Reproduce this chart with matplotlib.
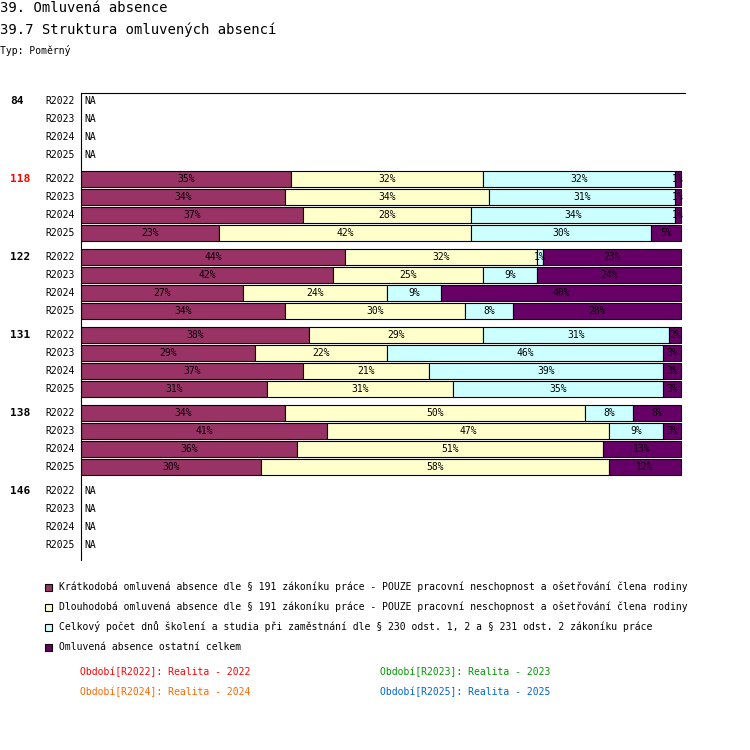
import matplotlib.pyplot as plt
import numpy as np

groups = ['84', '118', '122', '131', '138', '146']
periods = ['R2022', 'R2023', 'R2024', 'R2025']
series = [
    'Krátkodobá omluvená absence dle § 191 zákoníku práce - POUZE pracovní neschopnost a ošetřování člena rodiny',
    'Dlouhodobá omluvená absence dle § 191 zákoníku práce - POUZE pracovní neschopnost a ošetřování člena rodiny',
    'Celkový počet dnů školení a studia při zaměstnání dle § 230 odst. 1, 2 a § 231 odst. 2 zákoníku práce',
    'Omluvená absence ostatní celkem',
]
colors = ['#993366', '#ffffcc', '#ccffff', '#660066']

# values per group -> per period -> 4 series (None = NA)
values = {
    '84': [None, None, None, None],
    '118': [[35, 32, 32, 1], [34, 34, 31, 1], [37, 28, 34, 1], [23, 42, 30, 5]],
    '122': [[44, 32, 1, 23], [42, 25, 9, 24], [27, 24, 9, 40], [34, 30, 8, 28]],
    '131': [[38, 29, 31, 2], [29, 22, 46, 3], [37, 21, 39, 3], [31, 31, 35, 3]],
    '138': [[34, 50, 8, 8], [41, 47, 9, 3], [36, 51, 0, 13], [30, 58, 0, 12]],
    '146': [None, None, None, None],
}

plt.rcParams['font.family'] = 'DejaVu Sans Mono'
fig = plt.figure(figsize=(7.5, 7.5), dpi=100)
ax = fig.add_axes([81 / 750, 1 - 560 / 750, 604 / 750, 467 / 750])
ax.set_xlim(0, 100 * 604 / 600)
ax.set_ylim(467, 0)
for s in ['right', 'bottom']:
    ax.spines[s].set_visible(False)
ax.set_xticks([])
ax.set_yticks([])

for g, grp in enumerate(groups):
    for r, per in enumerate(periods):
        y = 8 + g * 78 + r * 18
        ax.text(-1, y, per, ha='right', va='center', fontsize=7)
        if r == 0:
            fig.text(10 / 750, 1 - (93 + y) / 750, grp, ha='left', va='center',
                     fontsize=8, fontweight='bold', color='red' if grp == '118' else 'black')
        vals = values[grp][r]
        if vals is None:
            ax.text(0.5, y, 'NA', ha='left', va='center', fontsize=7)
            continue
        tot = sum(vals)
        left = 0
        for k, v in enumerate(vals):
            w = v / tot * 100
            if w <= 0:
                continue
            ax.barh(y, w, left=left, height=16, color=colors[k], edgecolor='black', linewidth=0.8)
            ax.text(left + w / 2, y, f'{v}%', ha='center', va='center', fontsize=7,
                    clip_on=False)
            left += w

fig.text(0, 1 - 8 / 750, '39. Omluvená absence', fontsize=10, va='center')
fig.text(0, 1 - 30 / 750, '39.7 Struktura omluvených absencí', fontsize=10, va='center')
fig.text(0, 1 - 50 / 750, 'Typ: Poměrný', fontsize=7, va='center')

for k, name in enumerate(series):
    yy = 1 - (587 + k * 20) / 750
    fig.patches.append(plt.Rectangle((45 / 750, yy - 3.5 / 750), 7 / 750, 7 / 750,
                                     transform=fig.transFigure, facecolor=colors[k],
                                     edgecolor='black', linewidth=0.8))
    fig.text(59 / 750, yy, name, fontsize=7, va='center')

periods_legend = [('Období[R2022]: Realita - 2022', '#ff0000', 80, 672),
                  ('Období[R2023]: Realita - 2023', '#009900', 380, 672),
                  ('Období[R2024]: Realita - 2024', '#ff6600', 80, 692),
                  ('Období[R2025]: Realita - 2025', '#0066cc', 380, 692)]
for txt, c, x, y in periods_legend:
    fig.text(x / 750, 1 - y / 750, txt, fontsize=7, color=c, va='center')

fig.savefig('out.png', dpi=100)
